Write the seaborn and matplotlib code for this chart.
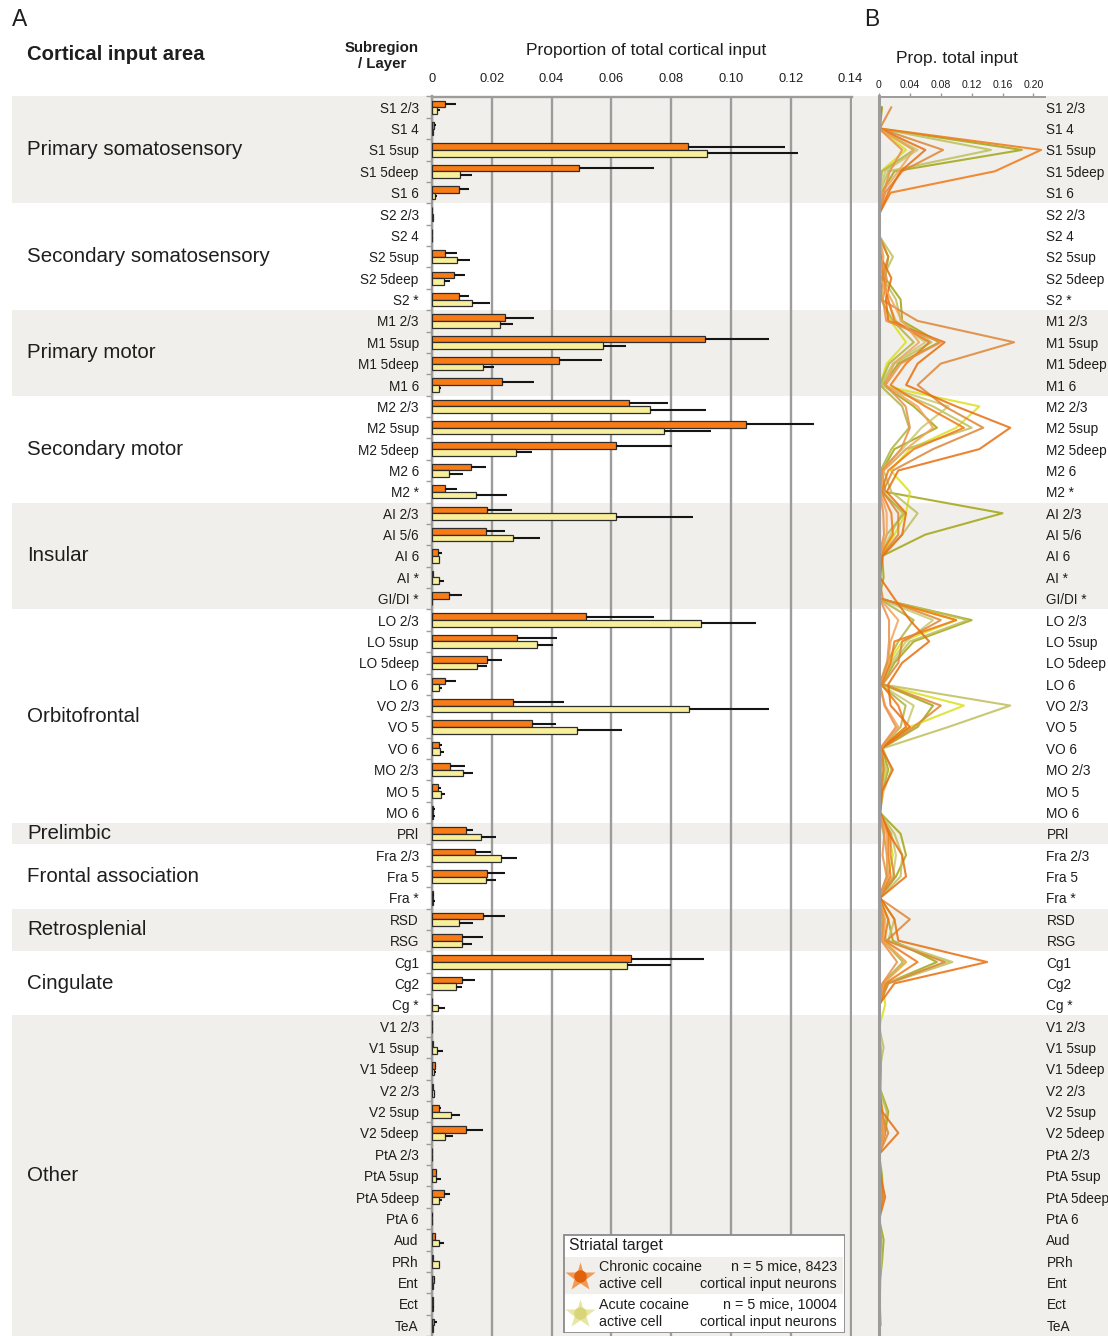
import numpy as np
import pandas as pd
import matplotlib
matplotlib.use("Agg")
import matplotlib.pyplot as plt
import matplotlib.transforms as mtransforms
from matplotlib.patches import Rectangle
import seaborn as sns

# ---------------- data ----------------
subregions = [
    "S1 2/3", "S1 4", "S1 5sup", "S1 5deep", "S1 6",
    "S2 2/3", "S2 4", "S2 5sup", "S2 5deep", "S2 *",
    "M1 2/3", "M1 5sup", "M1 5deep", "M1 6",
    "M2 2/3", "M2 5sup", "M2 5deep", "M2 6", "M2 *",
    "AI 2/3", "AI 5/6", "AI 6", "AI *", "GI/DI *",
    "LO 2/3", "LO 5sup", "LO 5deep", "LO 6", "VO 2/3", "VO 5", "VO 6", "MO 2/3", "MO 5", "MO 6",
    "PRl",
    "Fra 2/3", "Fra 5", "Fra *",
    "RSD", "RSG",
    "Cg1", "Cg2", "Cg *",
    "V1 2/3", "V1 5sup", "V1 5deep", "V2 2/3", "V2 5sup", "V2 5deep", "PtA 2/3", "PtA 5sup",
    "PtA 5deep", "PtA 6", "Aud", "PRh", "Ent", "Ect", "TeA",
]
group_names = ["Primary somatosensory", "Secondary somatosensory", "Primary motor",
               "Secondary motor", "Insular", "Orbitofrontal", "Prelimbic",
               "Frontal association", "Retrosplenial", "Cingulate", "Other"]
group_sizes = [5, 5, 4, 5, 5, 10, 1, 3, 2, 3, 15]

chronic_mean = [0.0042, 0.0007, 0.0856, 0.0493, 0.0090, 0.0001, 0.0001, 0.0045, 0.0074, 0.0090,
                0.0243, 0.0913, 0.0424, 0.0233,
                0.0659, 0.1051, 0.0617, 0.0130, 0.0042,
                0.0183, 0.0179, 0.0020, 0.0002, 0.0058,
                0.0516, 0.0286, 0.0185, 0.0044, 0.0270, 0.0334, 0.0025, 0.0060, 0.0020, 0.0005,
                0.0114,
                0.0143, 0.0184, 0.0003,
                0.0172, 0.0100,
                0.0667, 0.0101, 0.0,
                0.0, 0.0003, 0.0009, 0.0002, 0.0022, 0.0113, 0.0, 0.0013, 0.0039, 0.0001, 0.0010,
                0.0003, 0.0006, 0.0003, 0.0008]
chronic_sem = [0.0037, 0.0006, 0.0324, 0.0248, 0.0035, 0.0, 0.0, 0.0040, 0.0037, 0.0035,
               0.0097, 0.0214, 0.0146, 0.0108,
               0.0130, 0.0228, 0.0187, 0.0050, 0.0043,
               0.0084, 0.0066, 0.0013, 0.0002, 0.0043,
               0.0226, 0.0131, 0.0049, 0.0035, 0.0172, 0.0081, 0.0007, 0.0049, 0.0010, 0.0005,
               0.0023,
               0.0055, 0.0060, 0.0003,
               0.0073, 0.0072,
               0.0244, 0.0043, 0.0,
               0.0, 0.0002, 0.0003, 0.0002, 0.0009, 0.0059, 0.0, 0.0003, 0.0022, 0.0001, 0.0003,
               0.0002, 0.0003, 0.0002, 0.0008]
acute_mean = [0.0016, 0.0003, 0.0919, 0.0093, 0.0011, 0.0003, 0.0001, 0.0084, 0.0040, 0.0133,
              0.0226, 0.0573, 0.0172, 0.0024,
              0.0729, 0.0777, 0.0282, 0.0058, 0.0146,
              0.0616, 0.0270, 0.0022, 0.0023, 0.0,
              0.0900, 0.0350, 0.0150, 0.0022, 0.0859, 0.0486, 0.0027, 0.0104, 0.0031, 0.0005,
              0.0164,
              0.0231, 0.0180, 0.0005,
              0.0091, 0.0100,
              0.0652, 0.0079, 0.0020,
              0.0001, 0.0018, 0.0008, 0.0007, 0.0064, 0.0043, 0.0, 0.0013, 0.0023, 0.0, 0.0023,
              0.0022, 0.0002, 0.0005, 0.0002]
acute_sem = [0.0011, 0.0002, 0.0305, 0.0042, 0.0005, 0.0001, 0.0, 0.0044, 0.0020, 0.0062,
             0.0044, 0.0075, 0.0037, 0.0007,
             0.0187, 0.0155, 0.0051, 0.0045, 0.0105,
             0.0256, 0.0090, 0.0005, 0.0018, 0.0,
             0.0184, 0.0054, 0.0035, 0.0011, 0.0268, 0.0150, 0.0012, 0.0033, 0.0011, 0.0005,
             0.0051,
             0.0055, 0.0033, 0.0005,
             0.0045, 0.0035,
             0.0146, 0.0023, 0.0023,
             0.0, 0.0020, 0.0005, 0.0003, 0.0029, 0.0028, 0.0, 0.0016, 0.0012, 0.0, 0.0016,
             0.0005, 0.0001, 0.0002, 0.0001]

# per-mouse proportions (panel B)
chronic_m1 = [0.001, 0.002, 0.21, 0.15, 0.015, 0, 0, 0.003, 0.006, 0.012,
              0.02, 0.065, 0.035, 0.015,
              0.06, 0.11, 0.045, 0.012, 0.003,
              0.016, 0.018, 0.001, 0, 0.002,
              0.1, 0.02, 0.015, 0.003, 0.025, 0.035, 0.002, 0.003, 0.002, 0,
              0.012,
              0.012, 0.015, 0,
              0.012, 0.007,
              0.05, 0.008, 0,
              0, 0, 0.001, 0, 0.002, 0.008, 0, 0.001, 0.003, 0, 0.001, 0, 0.0005, 0, 0.001]
chronic_m2 = [0.016, 0.001, 0.083, 0.03, 0.008, 0, 0, 0.012, 0.004, 0.003,
              0.05, 0.175, 0.08, 0.05,
              0.085, 0.135, 0.07, 0.018, 0.005,
              0.025, 0.025, 0.003, 0, 0.005,
              0.08, 0.03, 0.025, 0.005, 0.08, 0.045, 0.004, 0.006, 0.003, 0.0005,
              0.015,
              0.015, 0.02, 0,
              0.04, 0.01,
              0.085, 0.012, 0,
              0, 0, 0.001, 0, 0.003, 0.012, 0, 0.002, 0.005, 0, 0.001, 0.0005, 0.001, 0.0005, 0.001]
chronic_m3 = [0.003, 0.0005, 0.06, 0.028, 0.012, 0.0005, 0, 0.002, 0.016, 0.009,
              0.012, 0.085, 0.05, 0.035,
              0.1, 0.17, 0.13, 0.025, 0.01,
              0.035, 0.03, 0.005, 0.001, 0.02,
              0.04, 0.065, 0.03, 0.012, 0.015, 0.04, 0.003, 0.018, 0.004, 0.002,
              0.013,
              0.03, 0.035, 0.0015,
              0.02, 0.025,
              0.14, 0.02, 0,
              0, 0.0015, 0.002, 0.001, 0.004, 0.025, 0, 0.002, 0.008, 0.0005, 0.002, 0.001, 0.0015, 0.001, 0.002]
chronic_m4 = [0, 0, 0.045, 0.025, 0.004, 0, 0.0005, 0.005, 0.001, 0.016,
              0.03, 0.052, 0.019, 0.008,
              0.05, 0.07, 0.035, 0.006, 0.002,
              0.01, 0.01, 0.001, 0, 0.001,
              0.025, 0.015, 0.012, 0.001, 0.008, 0.025, 0.002, 0.002, 0.001, 0,
              0.01,
              0.01, 0.012, 0,
              0.008, 0.005,
              0.035, 0.006, 0,
              0, 0, 0.0005, 0, 0.001, 0.007, 0, 0.001, 0.002, 0, 0.001, 0, 0, 0, 0]
chronic_m5 = [0.001, 0, 0.03, 0.014, 0.006, 0, 0, 0.0005, 0.01, 0.005,
              0.0095, 0.08, 0.028, 0.0085,
              0.0345, 0.04, 0.0285, 0.004, 0.001,
              0.0055, 0.0065, 0, 0, 0.001,
              0.013, 0.013, 0.0105, 0.001, 0.007, 0.022, 0.0015, 0.001, 0, 0,
              0.007,
              0.0045, 0.01, 0,
              0.006, 0.003,
              0.0235, 0.0045, 0,
              0, 0, 0, 0, 0.001, 0.0045, 0, 0.0005, 0.0015, 0, 0, 0, 0, 0, 0]
acute_m1 = [0.004, 0.001, 0.185, 0.02, 0.003, 0.001, 0, 0.012, 0.008, 0.028,
            0.03, 0.078, 0.025, 0.005,
            0.045, 0.075, 0.02, 0.004, 0.008,
            0.16, 0.06, 0.004, 0.006, 0,
            0.12, 0.045, 0.02, 0.004, 0.07, 0.05, 0.004, 0.012, 0.004, 0.001,
            0.028,
            0.035, 0.022, 0.001,
            0.012, 0.018,
            0.075, 0.01, 0.001,
            0, 0.002, 0.002, 0.002, 0.012, 0.008, 0, 0.004, 0.005, 0, 0.006, 0.004, 0.001, 0.001, 0]
acute_m2 = [0.001, 0, 0.035, 0.0025, 0, 0, 0, 0.004, 0.002, 0.004,
            0.015, 0.035, 0.01, 0.001,
            0.13, 0.1, 0.04, 0.015, 0.04,
            0.035, 0.02, 0.002, 0.001, 0,
            0.1, 0.03, 0.012, 0.002, 0.11, 0.04, 0.002, 0.008, 0.002, 0,
            0.012,
            0.018, 0.012, 0,
            0.004, 0.006,
            0.035, 0.005, 0.008,
            0.0005, 0, 0, 0, 0.003, 0.002, 0, 0, 0.001, 0, 0.001, 0.001, 0, 0, 0]
acute_m3 = [0.002, 0.0005, 0.145, 0.012, 0.001, 0.0005, 0, 0.018, 0.005, 0.022,
            0.028, 0.068, 0.02, 0.003,
            0.07, 0.12, 0.035, 0.006, 0.016,
            0.05, 0.03, 0.003, 0.003, 0,
            0.115, 0.04, 0.018, 0.003, 0.17, 0.09, 0.005, 0.016, 0.006, 0.001,
            0.02,
            0.03, 0.028, 0.0015,
            0.02, 0.012,
            0.095, 0.012, 0.0005,
            0, 0.006, 0.001, 0.001, 0.01, 0.006, 0, 0.002, 0.003, 0, 0.003, 0.003, 0, 0.001, 0.001]
acute_m4 = [0.0005, 0, 0.05, 0.008, 0.001, 0, 0.0005, 0.006, 0.003, 0.01,
            0.022, 0.06, 0.018, 0.002,
            0.09, 0.055, 0.03, 0.002, 0.006,
            0.03, 0.015, 0.001, 0.001, 0,
            0.07, 0.035, 0.015, 0.001, 0.045, 0.035, 0.001, 0.01, 0.003, 0.0005,
            0.016,
            0.022, 0.018, 0,
            0.006, 0.009,
            0.09, 0.008, 0.0005,
            0, 0.001, 0.001, 0.0005, 0.005, 0.004, 0, 0.0005, 0.002, 0, 0.001, 0.002, 0, 0.0005, 0]
acute_m5 = [0.0005, 0, 0.045, 0.004, 0.0005, 0, 0, 0.002, 0.002, 0.0025,
            0.018, 0.045, 0.013, 0.001,
            0.03, 0.039, 0.016, 0.002, 0.003,
            0.033, 0.01, 0.001, 0.0005, 0,
            0.045, 0.025, 0.01, 0.001, 0.0345, 0.028, 0.0015, 0.006, 0.0005, 0,
            0.006,
            0.0105, 0.01, 0,
            0.0035, 0.005,
            0.031, 0.0045, 0,
            0, 0, 0, 0, 0.002, 0.0015, 0, 0, 0.0005, 0, 0.0005, 0.001, 0, 0, 0]

xticks_a = [0, 0.02, 0.04, 0.06, 0.08, 0.10, 0.12, 0.14]
xticklabels_a = ["0", "0.02", "0.04", "0.06", "0.08", "0.10", "0.12", "0.14"]
xticks_b = [0, 0.04, 0.08, 0.12, 0.16, 0.20]
xticklabels_b = ["0", "0.04", "0.08", "0.12", "0.16", "0.20"]

# ---------------- style ----------------
sns.set_style("white")
plt.rcParams["font.family"] = ["Liberation Sans", "DejaVu Sans"]

ORANGE = "#F97B16"
YELLOW = "#F8EF9A"
BAND = "#F1EFEB"
GRID = "#9C9C9C"
TXT = "#1E1E1E"

W, H = 1108, 1336
fig = plt.figure(figsize=(W / 100, H / 100), dpi=100)
fig.patch.set_facecolor("white")


def fx(px):
    return px / W


def fy(py):
    return 1 - py / H


top_px = 96.5
ax_h = (H - top_px) / H
n = len(subregions)

# ---------------- panel A ----------------
axA = fig.add_axes([fx(432), 0, fx(852) - fx(432), ax_h])
axA.set_facecolor("none")
df_a = pd.DataFrame({
    "subregion": subregions * 2,
    "group": ["Chronic"] * n + ["Acute"] * n,
    "value": chronic_mean + acute_mean,
})
sns.barplot(data=df_a, y="subregion", x="value", hue="group", order=subregions,
            hue_order=["Chronic", "Acute"], palette={"Chronic": ORANGE, "Acute": YELLOW},
            saturation=1, width=0.62, edgecolor="#2e2e2e", linewidth=0.9, errorbar=None,
            legend=False, ax=axA, zorder=3)

for cont, sems in zip(axA.containers, [chronic_sem, acute_sem]):
    xs, ys, es = [], [], []
    for p in cont:
        yc = p.get_y() + p.get_height() / 2
        xs.append(p.get_width())
        ys.append(yc)
        es.append(sems[int(round(yc))])
    axA.errorbar(xs, ys, xerr=[np.zeros(len(es)), es], fmt="none", ecolor="#151515",
                 elinewidth=1.5, capsize=0, zorder=4)

axA.set_xlim(0, 0.1405)
axA.set_ylim(n - 0.5, -0.5)
axA.set_xlabel("")
axA.set_ylabel("")
axA.xaxis.tick_top()
axA.set_xticks(xticks_a)
axA.set_xticklabels(xticklabels_a)
axA.tick_params(axis="x", length=0, pad=8, labelsize=9.3, labelcolor=TXT)
axA.set_yticks(range(n))
axA.set_yticklabels(subregions)
axA.tick_params(axis="y", which="major", length=0, pad=9.5, labelsize=9.8, labelcolor=TXT)
axA.set_yticks(np.arange(-0.5, n, 1), minor=True)
axA.tick_params(axis="y", which="minor", length=4, width=1, color=GRID, left=True)
axA.grid(axis="x", color=GRID, lw=1.7)
axA.set_axisbelow(True)
for s in ["right", "bottom"]:
    axA.spines[s].set_visible(False)
for s in ["top", "left"]:
    axA.spines[s].set_color(GRID)
    axA.spines[s].set_linewidth(1.7)

# background bands and group labels
blend = mtransforms.blended_transform_factory(fig.transFigure, axA.transData)
start = 0
for i, (name, size) in enumerate(zip(group_names, group_sizes)):
    if i % 2 == 0:
        axA.add_patch(Rectangle((fx(12), start - 0.5), fx(1108) - fx(12), size,
                                transform=blend, clip_on=False, zorder=-10,
                                facecolor=BAND, edgecolor="none"))
    axA.text(fx(27), start + (size - 1) / 2, name, transform=blend, ha="left",
             va="center", fontsize=14.8, color=TXT, clip_on=False)
    start += size

# ---------------- panel B ----------------
axB = fig.add_axes([fx(879), 0, fx(1045) - fx(879), ax_h])
axB.set_facecolor("none")
mice = {
    "Chronic 1": chronic_m1, "Chronic 2": chronic_m2, "Chronic 3": chronic_m3,
    "Chronic 4": chronic_m4, "Chronic 5": chronic_m5,
    "Acute 1": acute_m1, "Acute 2": acute_m2, "Acute 3": acute_m3,
    "Acute 4": acute_m4, "Acute 5": acute_m5,
}
mouse_colors = {
    "Chronic 1": "#F07814", "Chronic 2": "#DD8636", "Chronic 3": "#E86F0E",
    "Chronic 4": "#F2A45E", "Chronic 5": "#E99048",
    "Acute 1": "#A3A514", "Acute 2": "#DCE01C", "Acute 3": "#BFBE5C",
    "Acute 4": "#C9C86E", "Acute 5": "#B0B342",
}
rows = []
for m, vals in mice.items():
    for r, v in enumerate(vals):
        rows.append({"mouse": m, "row": r, "value": v})
df_b = pd.DataFrame(rows)
hue_order = [k for k in mice if k.startswith("Acute")] + [k for k in mice if k.startswith("Chronic")]
sns.lineplot(data=df_b, x="value", y="row", hue="mouse", hue_order=hue_order,
             palette=mouse_colors, orient="y", sort=False, estimator=None,
             linewidth=1.5, alpha=0.85, legend=False, ax=axB)
axB.set_xlim(0, 0.215)
axB.set_ylim(n - 0.5, -0.5)
axB.set_xlabel("")
axB.set_ylabel("")
axB.xaxis.tick_top()
axB.set_xticks(xticks_b)
axB.set_xticklabels(xticklabels_b)
axB.tick_params(axis="x", length=3, width=1, color=GRID, pad=2, labelsize=7.6, labelcolor=TXT)
axB.yaxis.tick_right()
axB.set_yticks(range(n))
axB.set_yticklabels(subregions)
axB.tick_params(axis="y", length=0, pad=1, labelsize=9.8, labelcolor=TXT)
axB.grid(False)
for s in ["right", "bottom"]:
    axB.spines[s].set_visible(False)
axB.spines["left"].set_color(GRID)
axB.spines["left"].set_linewidth(2.2)
axB.spines["top"].set_color(GRID)
axB.spines["top"].set_linewidth(1.4)

# ---------------- headers ----------------
fig.text(fx(12), fy(19), "A", fontsize=16.5, ha="left", va="center", color=TXT)
fig.text(fx(864), fy(19), "B", fontsize=16.5, ha="left", va="center", color=TXT)
fig.text(fx(27), fy(55), "Cortical input area", fontsize=14.6, weight="bold",
         ha="left", va="center", color=TXT)
fig.text(fx(382), fy(56), "Subregion\n/ Layer", fontsize=10.8, weight="bold",
         ha="center", va="center", linespacing=1.15, color=TXT)
fig.text(fx(646), fy(50), "Proportion of total cortical input", fontsize=12.5,
         ha="center", va="center", color=TXT)
fig.text(fx(957), fy(59), "Prop. total input", fontsize=12.5,
         ha="center", va="center", color=TXT)

# ---------------- legend ----------------
legax = fig.add_axes([fx(563), fy(1333), fx(845) - fx(563), (1333 - 1234) / H])
legax.set_xlim(0, 282)
legax.set_ylim(99, 0)
legax.axis("off")
legax.add_patch(Rectangle((0.5, 0.5), 281, 98, facecolor="white", edgecolor="#8a8a8a", lw=1.3))
legax.add_patch(Rectangle((2, 23), 278, 37, facecolor=BAND, edgecolor="none"))
legax.text(6, 11.5, "Striatal target", fontsize=11.3, ha="left", va="center", color=TXT)
legax.plot(17, 43, marker="*", markersize=22, color="#F29A55", markeredgecolor="none")
legax.plot(17, 42, marker="o", markersize=9, color="#E0620E", markeredgecolor="none")
legax.plot(17, 80, marker="*", markersize=22, color="#E8E6A0", markeredgecolor="none")
legax.plot(17, 79, marker="o", markersize=9, color="#D9D67A", markeredgecolor="none")
legax.text(36, 41.5, "Chronic cocaine\nactive cell", fontsize=10.3, ha="left", va="center",
           linespacing=1.3, color=TXT)
legax.text(274, 41.5, "n = 5 mice, 8423\ncortical input neurons", fontsize=10.3, ha="right",
           va="center", linespacing=1.3, color=TXT)
legax.text(36, 79.5, "Acute cocaine\nactive cell", fontsize=10.3, ha="left", va="center",
           linespacing=1.3, color=TXT)
legax.text(274, 79.5, "n = 5 mice, 10004\ncortical input neurons", fontsize=10.3, ha="right",
           va="center", linespacing=1.3, color=TXT)

fig.savefig("out.png", dpi=100, facecolor="white")
